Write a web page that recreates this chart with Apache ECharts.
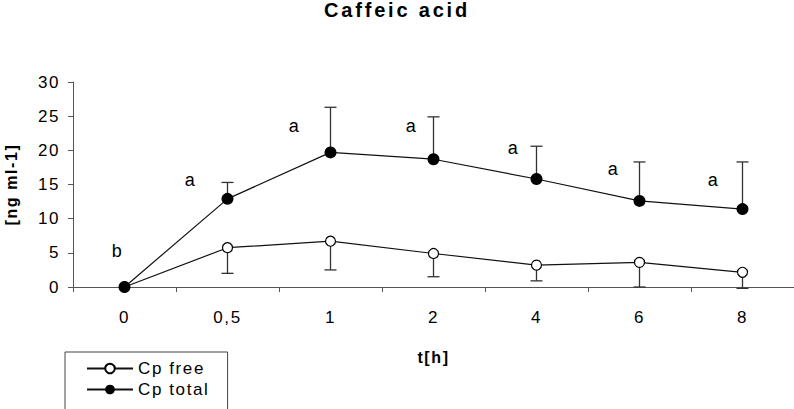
<!DOCTYPE html>
<html>
<head>
<meta charset="utf-8">
<script src="https://cdn.jsdelivr.net/npm/echarts@6/dist/echarts.min.js"></script>
<style>
html, body { margin: 0; padding: 0; background: #fff; }
#chart { width: 794px; height: 409px; }
#chart text { letter-spacing: 1.6px; }
</style>
</head>
<body>
<div id="chart"></div>
<script>
// ---- data ----
const categories = ['0', '0,5', '1', '2', '4', '6', '8'];
const freeMean = [0, 5.75, 6.7, 4.9, 3.2, 3.6, 2.15];
const freeErrLow = [0, 2.0, 2.5, 1.5, 0.9, 0.0, -0.2];
const totalMean = [0, 12.9, 19.7, 18.7, 15.8, 12.6, 11.4];
const totalErrHigh = [0, 15.3, 26.3, 24.9, 20.6, 18.3, 18.3];
const annotText = ['b', 'a', 'a', 'a', 'a', 'a', 'a'];
const annotY = [5.3, 15.6, 23.5, 23.6, 20.3, 17.3, 15.6];
const yTicks = { min: 0, max: 30, interval: 5 };

// ---- styling (label offsets in px, not data) ----
const annotDx = [-7, -37, -36, -22, -23, -26, -29];
const FONT = "'Liberation Sans', Arial, Helvetica, sans-serif";

const chart = echarts.init(document.getElementById('chart'), null, { renderer: 'svg' });

const errData = [];
categories.forEach((c, i) => {
  if (totalErrHigh[i] !== totalMean[i]) errData.push([i, totalMean[i], totalErrHigh[i]]);
  if (freeErrLow[i] !== freeMean[i]) errData.push([i, freeMean[i], freeErrLow[i]]);
});
const annotData = categories.map((c, i) => [i, annotY[i], i]);

chart.setOption({
  animation: false,
  backgroundColor: '#fff',
  title: {
    text: 'Caffeic acid',
    left: 'center',
    top: 0,
    padding: 0,
    textStyle: { fontFamily: FONT, fontSize: 20, fontWeight: 'bold', color: '#000' }
  },
  legend: {
    data: ['Cp free', 'Cp total'],
    orient: 'vertical',
    left: 65,
    top: 352,
    width: 110,
    height: 80,
    padding: [8, 31, 20, 21],
    itemGap: 4,
    itemWidth: 46,
    itemHeight: 12,
    borderColor: '#444',
    borderWidth: 1,
    borderRadius: 0,
    textStyle: { fontFamily: FONT, fontSize: 17, color: '#000' }
  },
  grid: { left: 73, right: 0, top: 82, bottom: 122, containLabel: false, outerBoundsMode: 'none' },
  xAxis: {
    type: 'category',
    data: categories,
    boundaryGap: true,
    name: 't[h]',
    nameLocation: 'middle',
    nameGap: 62,
    nameTextStyle: { fontFamily: FONT, fontSize: 16, fontWeight: 'bold', color: '#000' },
    axisLine: { lineStyle: { color: '#555', width: 1 } },
    axisTick: { show: true, length: 5, inside: false, lineStyle: { color: '#555' } },
    axisLabel: { fontFamily: FONT, fontSize: 17, color: '#000', margin: 22 },
    splitLine: { show: false }
  },
  yAxis: {
    type: 'value',
    min: yTicks.min,
    max: yTicks.max,
    interval: yTicks.interval,
    name: '[ng ml-1]',
    nameLocation: 'middle',
    nameGap: 54,
    nameRotate: 90,
    nameTextStyle: { fontFamily: FONT, fontSize: 16, fontWeight: 'bold', color: '#000' },
    axisLine: { show: true, lineStyle: { color: '#555', width: 1 } },
    axisTick: { show: true, length: 5, inside: false, lineStyle: { color: '#555' } },
    axisLabel: { fontFamily: FONT, fontSize: 17, color: '#000', margin: 13 },
    splitLine: { show: false }
  },
  series: [
    {
      type: 'custom',
      name: 'err',
      z: 1,
      clip: false,
      silent: true,
      data: errData,
      renderItem: function (params, api) {
        const i = api.value(0);
        const p1 = api.coord([i, api.value(1)]);
        const p2 = api.coord([i, api.value(2)]);
        const half = 6;
        const st = { stroke: '#333', lineWidth: 1.3 };
        return {
          type: 'group',
          children: [
            { type: 'line', shape: { x1: p1[0], y1: p1[1], x2: p2[0], y2: p2[1] }, style: st },
            { type: 'line', shape: { x1: p2[0] - half, y1: p2[1], x2: p2[0] + half, y2: p2[1] }, style: st }
          ]
        };
      }
    },
    {
      type: 'line',
      name: 'Cp free',
      data: freeMean,
      z: 3,
      symbol: 'circle',
      symbolSize: 10,
      itemStyle: { color: '#fff', borderColor: '#000', borderWidth: 1.2 },
      lineStyle: { color: '#111', width: 1.2 }
    },
    {
      type: 'line',
      name: 'Cp total',
      data: totalMean,
      z: 4,
      symbol: 'circle',
      symbolSize: 12,
      itemStyle: { color: '#000', borderColor: '#000', borderWidth: 0 },
      lineStyle: { color: '#111', width: 1.2 }
    },
    {
      type: 'custom',
      name: 'annot',
      z: 5,
      silent: true,
      clip: false,
      data: annotData,
      renderItem: function (params, api) {
        const idx = api.value(2);
        const p = api.coord([api.value(0), api.value(1)]);
        return {
          type: 'text',
          x: p[0] + annotDx[idx],
          y: p[1],
          style: {
            text: annotText[idx],
            fontFamily: FONT,
            fontSize: 18,
            fill: '#000',
            align: 'center',
            verticalAlign: 'middle'
          }
        };
      }
    }
  ]
});

document.querySelectorAll('#chart text').forEach(function (t) {
  if (t.textContent === 'Caffeic acid') t.style.letterSpacing = '2.8px';
});
</script>
</body>
</html>
